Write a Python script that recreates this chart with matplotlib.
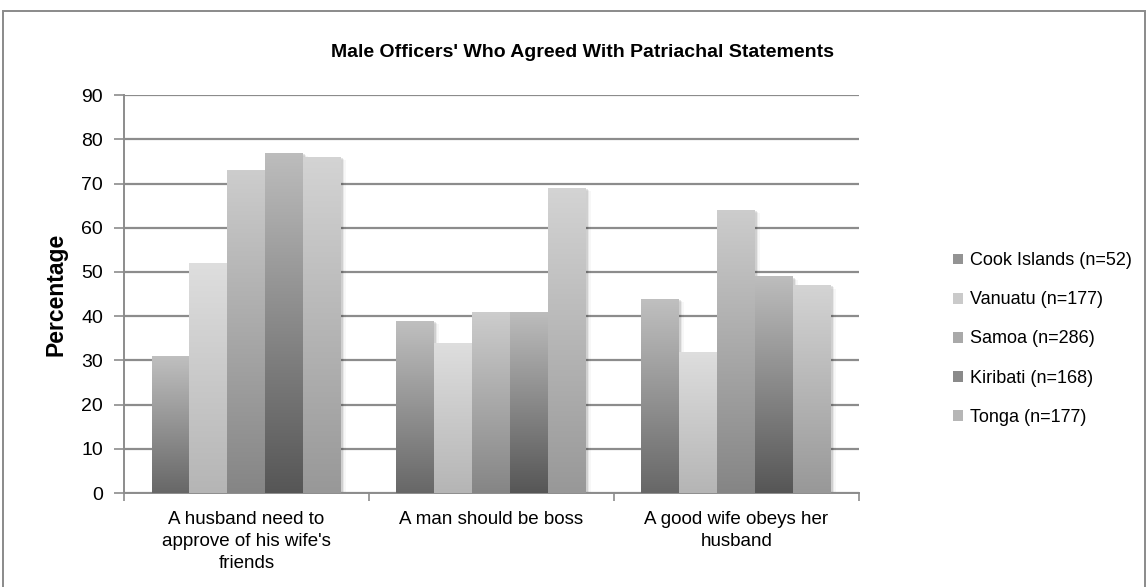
import numpy as np
import matplotlib
matplotlib.use('Agg')
import matplotlib.pyplot as plt
from matplotlib.patches import Rectangle, Patch
from matplotlib.colors import LinearSegmentedColormap, to_rgb, to_hex

plt.rcParams['font.family'] = ['Liberation Sans', 'DejaVu Sans']

# Data
categories = ["A husband need to\napprove of his wife's\nfriends",
              "A man should be boss",
              "A good wife obeys her\nhusband"]
series = ["Cook Islands (n=52)", "Vanuatu (n=177)", "Samoa (n=286)",
          "Kiribati (n=168)", "Tonga (n=177)"]
values = [
    [31, 39, 44],   # Cook Islands
    [52, 34, 32],   # Vanuatu
    [73, 41, 64],   # Samoa
    [77, 41, 49],   # Kiribati
    [76, 69, 47],   # Tonga
]

# gradient colours (top, bottom) per series
grad = [("#c0c0c0", "#676767"),
        ("#dedede", "#b5b5b5"),
        ("#cdcdcd", "#858585"),
        ("#bdbdbd", "#565656"),
        ("#d4d4d4", "#989898")]

fig = plt.figure(figsize=(11.48, 5.87), dpi=100)
ax = fig.add_axes([0.108, 0.160, 0.640, 0.678])

n = len(series)
width = 0.155
x = np.arange(len(categories))
grid_col = "#8c8c8c"

for i, (name, vals) in enumerate(zip(series, values)):
    offs = (i - (n - 1) / 2) * width
    bars = ax.bar(x + offs, vals, width, color='none', edgecolor='none', zorder=3)
    cmap = LinearSegmentedColormap.from_list(name, [grad[i][1], grad[i][0]])
    for b in bars:
        bx, by = b.get_x(), b.get_y()
        bw, bh = b.get_width(), b.get_height()
        # soft shadow
        for j, a in enumerate([0.10, 0.06, 0.03]):
            d = 0.006 * (j + 1)
            sh = Rectangle((bx + d, by - 0.25 * (j + 1)), bw, bh, facecolor='black',
                           alpha=a, edgecolor='none', zorder=2)
            ax.add_patch(sh)
        g = np.linspace(0, 1, 256).reshape(-1, 1)
        im = ax.imshow(g, extent=(bx, bx + bw, by, by + bh), origin='lower',
                       cmap=cmap, aspect='auto', zorder=4)
        im.set_clip_path(b)

ax.set_xlim(-0.5, len(categories) - 0.5)
ax.set_ylim(0, 90)
ax.set_yticks(range(0, 91, 10))
ax.yaxis.grid(True, color=grid_col, linewidth=1.6, zorder=0)
ax.set_axisbelow(True)

ax.set_xticks(x)
ax.set_xticklabels(categories, fontsize=13.5, linespacing=1.37)
ax.tick_params(axis='x', length=0, pad=13)
ax.set_xticks(np.arange(len(categories) + 1) - 0.5, minor=True)
ax.tick_params(axis='x', which='minor', length=6, color=grid_col, width=1.2)
ax.tick_params(axis='y', length=7, color=grid_col, width=1.2, labelsize=14, pad=8)

for s in ['top', 'right']:
    ax.spines[s].set_visible(False)
for s in ['left', 'bottom']:
    ax.spines[s].set_color(grid_col)
    ax.spines[s].set_linewidth(1.4)

ax.set_ylabel("Percentage", fontsize=16.5, fontweight='bold', labelpad=10)

fig.text(0.507, 0.911, "Male Officers' Who Agreed With Patriachal Statements",
         ha='center', va='center', fontsize=14, fontweight='bold')

handles = [Patch(facecolor=to_hex(0.5 * np.array(to_rgb(grad[i][0])) +
                                  0.5 * np.array(to_rgb(grad[i][1]))),
                 edgecolor='none', label=series[i]) for i in range(n)]
fig.legend(handles=handles, loc='center left', bbox_to_anchor=(0.824, 0.4225),
           frameon=False, fontsize=13, handlelength=0.55, handleheight=0.55,
           handletextpad=0.4, labelspacing=1.22, borderaxespad=0)

# outer chart border
fig.patches.append(Rectangle((3 / 1148, -0.02), 1142 / 1148, 1 - 11 / 587 + 0.02,
                             transform=fig.transFigure, fill=False,
                             edgecolor='#8a8a8a', linewidth=1.4))

fig.savefig("out.png", dpi=100)
